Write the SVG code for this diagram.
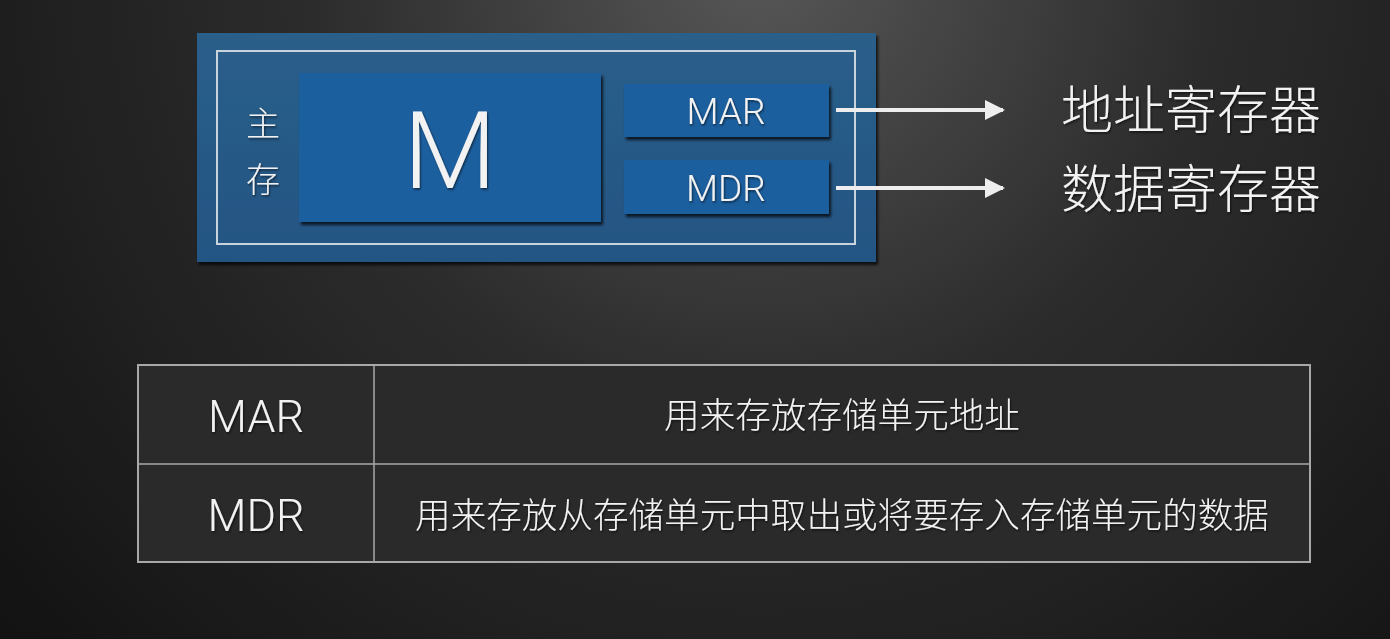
<svg xmlns="http://www.w3.org/2000/svg" width="1390" height="639" viewBox="0 0 1390 639">
  <defs>
    <radialGradient id="bg" cx="760" cy="-40" r="1000" gradientUnits="userSpaceOnUse">
      <stop offset="0" stop-color="#575757"/>
      <stop offset="0.45" stop-color="#2c2c2c"/>
      <stop offset="1" stop-color="#131313"/>
    </radialGradient>
    <linearGradient id="outer" x1="0" y1="0" x2="0" y2="1">
      <stop offset="0" stop-color="#2a5e8a"/>
      <stop offset="1" stop-color="#245583"/>
    </linearGradient>
    <filter id="shadow" x="-10%" y="-10%" width="125%" height="130%">
      <feDropShadow dx="2" dy="3" stdDeviation="1.5" flood-color="#000" flood-opacity="0.75"/>
    </filter>
    <filter id="tshadow" x="-10%" y="-10%" width="120%" height="130%">
      <feDropShadow dx="1" dy="1.5" stdDeviation="0.8" flood-color="#000" flood-opacity="0.6"/>
    </filter>
    <marker id="arrow" viewBox="0 0 10 10" refX="9" refY="5" markerWidth="5" markerHeight="5" markerUnits="strokeWidth" orient="auto">
      <path d="M0,0 L10,5 L0,10 Z" fill="#eeeeee"/>
    </marker>
    <style>
      .lat { font-family: Roboto, "Liberation Sans", Arial, sans-serif; font-weight: 300; fill: #f2f2f2; text-anchor: middle; }
      .cjk { font-family: "Noto Sans CJK SC", "Noto Sans", sans-serif; font-weight: 300; fill: #f2f2f2; text-anchor: middle; }
      .blk { fill: #1a5f9e; }
      .cell { fill: #2a2a2a; stroke: #a8a8a8; stroke-width: 2; }
      .conn { stroke: #eeeeee; stroke-width: 4; fill: none; marker-end: url(#arrow); }
    </style>
  </defs>

  <!-- backdrop -->
  <rect x="0" y="0" width="1390" height="639" fill="url(#bg)"/>

  <!-- main memory block -->
  <g id="main-memory">
    <rect x="197" y="33" width="679" height="229" fill="url(#outer)" filter="url(#shadow)"/>
    <rect x="217" y="51" width="638" height="193" fill="none" stroke="#c9d3dc" stroke-width="2"/>
    <text class="cjk" x="263" y="136" font-size="34" filter="url(#tshadow)">主</text>
    <text class="cjk" x="263" y="192" font-size="34" filter="url(#tshadow)">存</text>
  </g>

  <g id="m-array">
    <rect class="blk" x="299" y="73" width="302" height="149" filter="url(#shadow)"/>
    <text class="lat" x="450" y="188" font-size="108" filter="url(#tshadow)">M</text>
  </g>

  <g id="mar">
    <rect class="blk" x="624" y="84" width="205" height="53" filter="url(#shadow)"/>
    <text class="lat" x="726" y="124" font-size="37" filter="url(#tshadow)">MAR</text>
  </g>

  <g id="mdr">
    <rect class="blk" x="624" y="160" width="205" height="54" filter="url(#shadow)"/>
    <text class="lat" x="726" y="201" font-size="37" filter="url(#tshadow)">MDR</text>
  </g>

  <!-- connectors -->
  <g id="connectors">
    <line class="conn" x1="836" y1="110" x2="1003" y2="110"/>
    <line class="conn" x1="836" y1="188" x2="1003" y2="188"/>
  </g>

  <g id="mar-label">
    <text class="cjk" x="1191" y="129" font-size="52" filter="url(#tshadow)">地址寄存器</text>
  </g>
  <g id="mdr-label">
    <text class="cjk" x="1191" y="208" font-size="52" filter="url(#tshadow)">数据寄存器</text>
  </g>

  <!-- description table -->
  <g id="table">
    <rect class="cell" x="138" y="365" width="1172" height="197"/>
    <line x1="138" y1="464" x2="1310" y2="464" stroke="#a8a8a8" stroke-width="1.5"/>
    <line x1="374" y1="365" x2="374" y2="562" stroke="#a8a8a8" stroke-width="1.5"/>
    <text class="lat" x="256" y="432" font-size="45" filter="url(#tshadow)">MAR</text>
    <text class="lat" x="256" y="531" font-size="45" filter="url(#tshadow)">MDR</text>
    <text class="cjk" x="842" y="428" font-size="35.6" filter="url(#tshadow)">用来存放存储单元地址</text>
    <text class="cjk" x="842" y="528" font-size="35.6" filter="url(#tshadow)">用来存放从存储单元中取出或将要存入存储单元的数据</text>
  </g>
</svg>
